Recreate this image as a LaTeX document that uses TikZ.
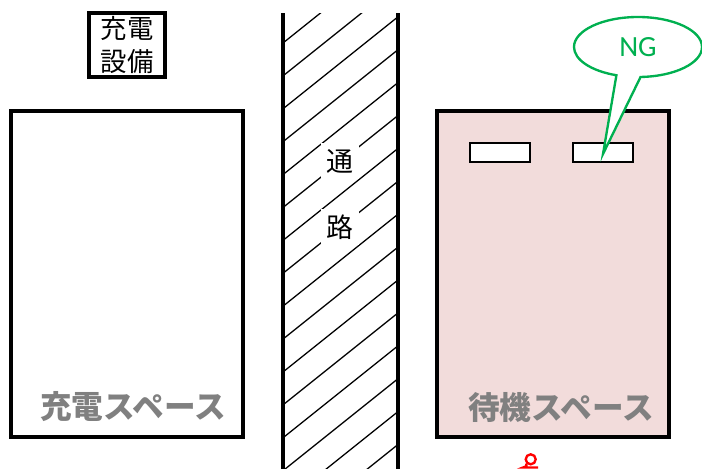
\documentclass[tikz,border=0pt]{standalone}
\usepackage{fontspec}
\newfontfamily\jp{Noto Sans CJK JP}
\setmainfont{Carlito}
\usetikzlibrary{shapes.callouts}

\definecolor{waitpink}{RGB}{242,220,219}
\definecolor{nggreen}{RGB}{0,176,80}
\definecolor{labelgray}{RGB}{128,128,128}

\tikzset{
  area/.style={draw=black,line width=3pt,minimum width=6.96cm,minimum height=9.78cm,inner sep=0pt},
  slot/.style={draw=black,fill=white,line width=1.7pt,minimum width=1.8cm,minimum height=0.57cm,inner sep=0pt},
  arealabel/.style={text=labelgray,font=\jp\bfseries\fontsize{27}{30}\selectfont},
  roadlabel/.style={fill=white,inner sep=5pt,font=\jp\fontsize{23}{26}\selectfont}
}

\begin{document}
\begin{tikzpicture}[x=0.03cm,y=-0.03cm]
  \useasboundingbox (0,0) rectangle (702,468);
  %\draw[very thin,gray,step=50] (0,0) grid (702,468);

  % charger
  \node[draw=black,line width=3pt,minimum width=2.28cm,minimum height=1.92cm,
        align=center,inner sep=0pt,font=\jp\fontsize{22.5}{27.5}\selectfont]
        (charger) at (127,45) {充電\\設備};

  % charging space
  \node[area] (chargearea) at (127,274) {};
  \node[arealabel] (chargelabel) at (133,407) {充電スペース};

  % road
  \begin{scope}
    \clip (283,13) rectangle (398,470);
    \foreach \k in {-1,...,16}
      \draw[line width=1.1pt] (283,43+32.9*\k) -- (398,43+32.9*\k-92);
  \end{scope}
  \draw[line width=3pt] (283,13) -- (283,470);
  \draw[line width=3pt] (398,13) -- (398,470);
  \node[roadlabel] (roadA) at (340,161) {通};
  \node[roadlabel] (roadB) at (340,227) {路};

  % waiting space
  \node[area,fill=waitpink] (waitarea) at (553,274) {};
  \node[arealabel] (waitlabel) at (561,407) {待機スペース};
  \node[slot] (slotA) at (500,152.5) {};
  \node[slot] (slotB) at (603,152.5) {};

  % NG callout
  \coordinate (ngtip) at (603,154);
  \node[ellipse callout,draw=nggreen,line width=2pt,fill=white,text=nggreen,
        minimum width=3.84cm,minimum height=1.8cm,inner sep=0pt,callout pointer arc=22,
        callout absolute pointer={(ngtip)},font=\fontsize{25}{28}\selectfont]
        (ng) at (638,47) {NG};

  % person (cut off)
  \node[circle,draw=red,line width=2pt,minimum size=0.3cm,inner sep=0pt] (pin) at (530.7,459.3) {};
  \coordinate (pinleft) at (523,467.5);
  \coordinate (pinright) at (538,467.5);
  \draw[red,line width=2pt] (pin.south west) .. controls (527,466) .. (pinleft) -- (pinright);
\end{tikzpicture}
\end{document}
